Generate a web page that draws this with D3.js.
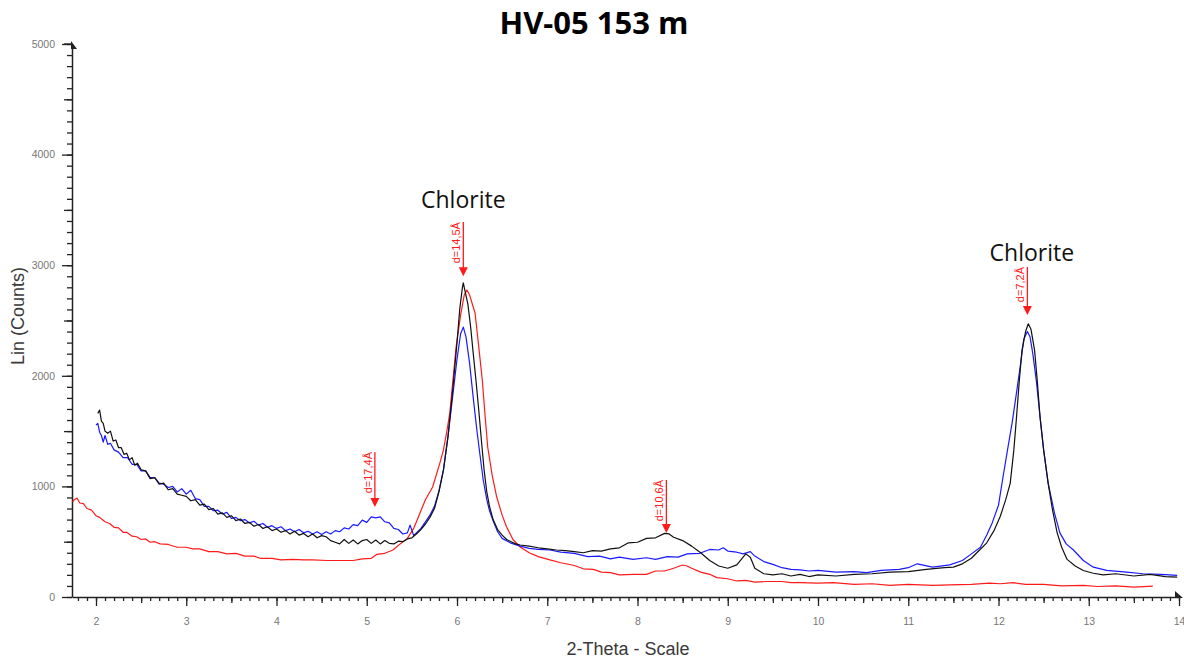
<!DOCTYPE html>
<html lang="en">
<head>
<meta charset="UTF-8"/>
<title>HV-05 153 m</title>
<script src="https://d3js.org/d3.v7.min.js"></script>
<style>
    body { margin: 0; background: white; }
    .tick text { font-family: Arial, "Liberation Sans", sans-serif; font-size: 10.5px; fill: #777; }
    .domain { stroke: #222; stroke-width: 1.5px; }
    .tick line { stroke: #222; stroke-width: 1.3px; }
</style>
</head>
<body>
<script>
    // Black trace: 2-theta / counts
    var blackTheta = [2.02,2.04,2.06,2.08,2.10,2.13,2.16,2.19,2.22,2.25,2.28,2.31,2.34,2.37,2.40,2.43,2.46,2.50,2.55,2.60,2.65,2.70,2.75,2.80,2.85,2.90,2.95,3.00,3.05,3.10,3.15,3.20,3.25,3.30,3.35,3.40,3.45,3.50,3.55,3.60,3.65,3.70,3.75,3.80,3.85,3.90,3.95,4.00,4.05,4.10,4.15,4.20,4.25,4.30,4.35,4.40,4.45,4.50,4.55,4.60,4.65,4.70,4.75,4.80,4.85,4.90,4.95,5.00,5.05,5.10,5.15,5.20,5.25,5.30,5.35,5.40,5.45,5.50,5.55,5.60,5.65,5.70,5.75,5.80,5.85,5.90,5.95,6.00,6.03,6.06,6.07,6.09,6.12,6.15,6.18,6.21,6.24,6.27,6.30,6.33,6.36,6.40,6.45,6.50,6.55,6.60,6.65,6.70,6.80,6.90,7.00,7.10,7.20,7.30,7.40,7.50,7.60,7.70,7.80,7.90,8.00,8.10,8.20,8.30,8.35,8.40,8.50,8.60,8.70,8.80,8.90,9.00,9.10,9.20,9.25,9.30,9.40,9.50,9.60,9.70,9.80,9.90,10.0,10.2,10.4,10.6,10.8,11.0,11.2,11.4,11.5,11.6,11.7,11.76,11.87,11.95,12.02,12.08,12.13,12.17,12.20,12.23,12.26,12.30,12.33,12.36,12.40,12.43,12.46,12.50,12.55,12.60,12.65,12.70,12.76,12.85,12.94,13.05,13.16,13.3,13.5,13.68,13.85,13.98];
    var blackCounts = [1660,1690,1590,1570,1500,1480,1500,1410,1420,1350,1350,1290,1300,1240,1260,1190,1210,1150,1140,1070,1080,1020,1030,970,980,930,920,910,870,880,830,840,790,800,750,760,720,735,690,705,665,675,640,655,620,635,600,615,585,600,570,595,560,575,545,570,535,555,545,510,495,480,520,485,515,480,510,520,485,515,480,510,485,480,505,500,525,535,570,610,660,720,800,950,1150,1450,1850,2300,2600,2800,2840,2760,2650,2450,2200,1960,1700,1420,1150,950,820,700,610,560,520,500,480,470,460,445,435,425,420,410,400,420,415,435,445,490,495,530,535,575,570,540,510,460,400,330,280,260,290,390,360,260,210,200,210,190,205,185,200,190,205,210,225,230,250,265,270,300,350,400,490,600,730,880,1030,1330,1630,1950,2230,2400,2470,2420,2230,1950,1630,1330,1030,780,580,450,340,280,240,215,200,210,190,205,185,180];

    // Blue trace
    var blueTheta = [2.00,2.02,2.04,2.06,2.08,2.10,2.13,2.16,2.20,2.25,2.30,2.35,2.40,2.45,2.50,2.55,2.60,2.65,2.70,2.75,2.80,2.85,2.90,2.95,3.00,3.05,3.10,3.15,3.20,3.25,3.30,3.35,3.40,3.45,3.50,3.55,3.60,3.65,3.70,3.75,3.80,3.85,3.90,3.95,4.00,4.05,4.10,4.15,4.20,4.25,4.30,4.35,4.40,4.45,4.50,4.55,4.60,4.65,4.70,4.75,4.80,4.85,4.90,4.95,5.00,5.05,5.10,5.15,5.20,5.25,5.30,5.35,5.40,5.45,5.48,5.52,5.55,5.60,5.65,5.70,5.75,5.80,5.85,5.90,5.95,6.00,6.04,6.07,6.10,6.14,6.18,6.22,6.26,6.29,6.33,6.36,6.40,6.45,6.50,6.59,6.70,6.80,6.90,7.03,7.15,7.30,7.45,7.58,7.70,7.80,7.95,8.10,8.20,8.33,8.45,8.55,8.69,8.80,8.90,8.95,9.00,9.10,9.17,9.25,9.30,9.40,9.50,9.60,9.70,9.80,9.90,10.0,10.2,10.4,10.54,10.7,10.9,11.0,11.1,11.27,11.46,11.6,11.7,11.8,11.87,11.93,12.0,12.05,12.10,12.15,12.20,12.24,12.28,12.32,12.35,12.38,12.42,12.46,12.50,12.55,12.62,12.68,12.75,12.83,12.94,13.05,13.2,13.42,13.6,13.8,13.98];
    var blueCounts = [1555,1570,1490,1460,1400,1460,1380,1390,1330,1310,1260,1260,1200,1200,1140,1140,1080,1080,1030,1020,990,1000,950,980,930,965,890,880,820,820,780,785,750,765,710,720,690,700,670,685,650,665,630,645,620,635,600,615,590,610,580,595,570,590,565,590,570,600,590,625,615,655,645,695,675,725,715,725,680,670,620,610,570,580,650,555,580,620,680,740,820,960,1150,1450,1800,2150,2380,2440,2350,2110,1800,1510,1250,1060,880,780,690,590,530,490,460,440,430,425,405,395,365,370,345,360,340,355,340,365,360,390,395,430,425,445,415,405,390,410,370,320,295,265,250,245,235,240,225,230,220,240,250,265,300,270,290,330,390,450,560,670,830,1085,1330,1570,1850,2080,2330,2400,2350,2200,1950,1630,1330,1030,760,580,480,425,330,270,240,225,210,205,195];

    // Red trace
    var redTheta = [1.74,1.76,1.79,1.82,1.86,1.90,1.95,2.00,2.04,2.10,2.15,2.20,2.25,2.30,2.34,2.40,2.45,2.50,2.55,2.60,2.65,2.71,2.80,2.90,3.00,3.07,3.15,3.25,3.35,3.45,3.55,3.65,3.75,3.82,3.95,4.05,4.18,4.30,4.40,4.56,4.70,4.85,4.95,5.05,5.11,5.20,5.29,5.37,5.45,5.52,5.59,5.65,5.73,5.81,5.85,5.89,5.92,5.99,6.04,6.08,6.11,6.14,6.20,6.24,6.28,6.31,6.34,6.39,6.44,6.50,6.55,6.62,6.70,6.80,6.90,7.03,7.15,7.30,7.40,7.51,7.6,7.7,7.8,7.95,8.1,8.2,8.3,8.4,8.5,8.55,8.6,8.7,8.8,8.88,9.0,9.1,9.2,9.3,9.44,9.6,9.7,9.8,10.0,10.17,10.4,10.6,10.8,11.0,11.27,11.46,11.7,11.9,12.02,12.16,12.3,12.5,12.7,12.94,13.1,13.3,13.5,13.71];
    var redCounts = [860,880,895,850,845,800,785,735,720,680,665,630,625,585,585,550,545,520,525,495,500,480,475,450,450,435,435,410,410,390,395,370,370,350,350,335,340,335,335,330,330,330,345,350,385,395,425,480,530,620,760,880,995,1211,1330,1510,1664,2260,2550,2730,2776,2730,2568,2270,1962,1650,1356,1100,904,740,633,520,452,400,365,335,310,285,255,250,225,220,200,205,205,235,235,260,289,280,260,225,205,175,165,145,150,135,140,140,130,130,125,130,115,120,105,115,105,110,115,125,120,130,115,115,100,105,95,100,90,99];

    // Peak markers and labels
    var markTheta = [5.09, 6.07, 8.32, 12.32];
    var markTop = [1311, 3390, 1058, 2984];
    var markTip = [814, 2900, 579, 2550];
    var markLabels = ["d=17,4Å", "d=14,5Å", "d=10,6Å", "d=7,2Å"];
    var mineralTheta = [6.07, 12.37];
    var mineralCounts = [3517, 3038];
    var mineralLabels = ["Chlorite", "Chlorite"];

    var yMajor = [0, 1000, 2000, 3000, 4000, 5000];
    var xMajor = [2, 3, 4, 5, 6, 7, 8, 9, 10, 11, 12, 13, 14];

    var W = 1184, H = 659;
    var plotLeft = 72, plotRight = 1179, plotTop = 44, plotBottom = 597;

    var svg = d3.select("body").append("svg")
                .attr("width", W)
                .attr("height", H);

    var x = d3.scaleLinear().domain([1.734, 14]).range([plotLeft, plotRight]);
    var y = d3.scaleLinear().domain([0, 5000]).range([plotBottom, plotTop]);

    // y axis: minor, half and major ticks
    svg.append("g")
       .attr("transform", "translate(" + plotLeft + ",0)")
       .call(d3.axisLeft(y).tickValues(d3.range(0, 5001, 100)).tickSize(5).tickFormat(""))
       .select(".domain").remove();
    svg.append("g")
       .attr("transform", "translate(" + plotLeft + ",0)")
       .call(d3.axisLeft(y).tickValues(d3.range(500, 5000, 1000)).tickSize(8).tickFormat(""))
       .select(".domain").remove();
    svg.append("g")
       .attr("class", "y-axis")
       .attr("transform", "translate(" + plotLeft + ",0)")
       .call(d3.axisLeft(y).tickValues(yMajor).tickSize(10).tickSizeOuter(0).tickPadding(7).tickFormat(d3.format("d")));

    // x axis
    svg.append("g")
       .attr("transform", "translate(0," + plotBottom + ")")
       .call(d3.axisBottom(x).tickValues(d3.range(1.8, 14.01, 0.1)).tickSize(4).tickFormat(""))
       .select(".domain").remove();
    svg.append("g")
       .attr("transform", "translate(0," + plotBottom + ")")
       .call(d3.axisBottom(x).tickValues(d3.range(2.5, 14, 1)).tickSize(6).tickFormat(""))
       .select(".domain").remove();
    svg.append("g")
       .attr("class", "x-axis")
       .attr("transform", "translate(0," + plotBottom + ")")
       .call(d3.axisBottom(x).tickValues(xMajor).tickSize(9).tickSizeOuter(0).tickPadding(12));

    // axis arrow heads
    svg.append("path")
       .attr("d", "M" + (plotLeft - 1) + "," + (plotTop - 3) + "L" + (plotLeft + 5) + "," + (plotTop + 5) + "L" + (plotLeft - 1) + "," + (plotTop + 5) + "Z")
       .attr("fill", "#222");
    svg.append("line")
       .attr("x1", plotLeft - 8).attr("x2", plotLeft)
       .attr("y1", plotTop).attr("y2", plotTop)
       .attr("stroke", "#222").attr("stroke-width", 1.3);
    svg.append("path")
       .attr("d", "M" + (plotRight + 4) + "," + (plotBottom + 1) + "L" + (plotRight - 4) + "," + (plotBottom - 6) + "L" + (plotRight - 4) + "," + (plotBottom + 1) + "Z")
       .attr("fill", "#222");

    // traces
    var line = d3.line()
                 .x(function(d) { return x(d[0]); })
                 .y(function(d) { return y(d[1]); });

    var traces = [
        { theta: redTheta, counts: redCounts, color: "#ff1a1a" },
        { theta: blueTheta, counts: blueCounts, color: "#1a1aff" },
        { theta: blackTheta, counts: blackCounts, color: "#111" }
    ];

    traces.forEach(function(t) {
        svg.append("path")
           .datum(d3.zip(t.theta, t.counts))
           .attr("fill", "none")
           .attr("stroke", t.color)
           .attr("stroke-width", 1.2)
           .attr("stroke-linejoin", "round")
           .attr("d", line);
    });

    // peak markers
    markTheta.forEach(function(t, i) {
        var px = x(t);
        svg.append("line")
           .attr("x1", px).attr("x2", px)
           .attr("y1", y(markTop[i])).attr("y2", y(markTip[i]) - 6)
           .attr("stroke", "#ff1a1a").attr("stroke-width", 1.3);
        svg.append("path")
           .attr("d", "M" + (px - 4.5) + "," + (y(markTip[i]) - 9) + "L" + (px + 4.5) + "," + (y(markTip[i]) - 9) + "L" + px + "," + y(markTip[i]) + "Z")
           .attr("fill", "#ff1a1a");
        svg.append("text")
           .attr("transform", "translate(" + (px - 3) + "," + y(markTop[i]) + ") rotate(-90)")
           .attr("text-anchor", "end")
           .attr("font-family", "Arial, 'Liberation Sans', sans-serif")
           .attr("font-size", 11)
           .attr("fill", "#ff1a1a")
           .text(markLabels[i]);
    });

    // mineral labels
    mineralTheta.forEach(function(t, i) {
        svg.append("text")
           .attr("x", x(t))
           .attr("y", y(mineralCounts[i]))
           .attr("text-anchor", "middle")
           .attr("font-family", "'Open Sans', sans-serif")
           .attr("font-size", 23)
           .attr("fill", "#111")
           .text(mineralLabels[i]);
    });

    // title and axis titles
    svg.append("text")
       .attr("x", 594).attr("y", 34)
       .attr("text-anchor", "middle")
       .attr("font-family", "'Open Sans', sans-serif")
       .attr("font-weight", "bold")
       .attr("font-size", 31)
       .attr("fill", "#000")
       .text("HV-05 153 m");

    svg.append("text")
       .attr("transform", "translate(24,316) rotate(-90)")
       .attr("text-anchor", "middle")
       .attr("font-family", "Arial, 'Liberation Sans', sans-serif")
       .attr("font-size", 18)
       .attr("fill", "#3a3a3a")
       .text("Lin (Counts)");

    svg.append("text")
       .attr("x", 628).attr("y", 655)
       .attr("text-anchor", "middle")
       .attr("font-family", "Arial, 'Liberation Sans', sans-serif")
       .attr("font-size", 18)
       .attr("fill", "#3a3a3a")
       .text("2-Theta - Scale");
</script>
</body>
</html>
